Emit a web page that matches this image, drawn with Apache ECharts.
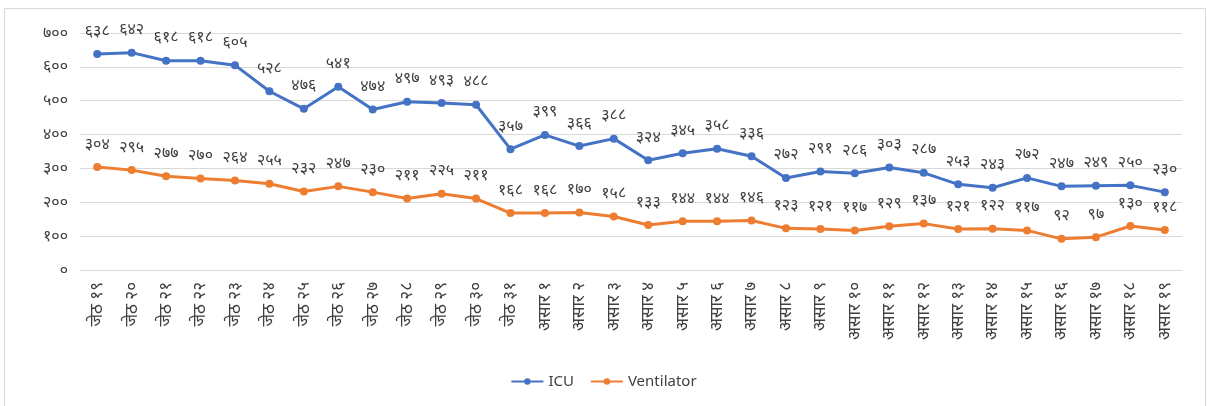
<!DOCTYPE html>
<html><head><meta charset="utf-8">
<script src="https://cdn.jsdelivr.net/npm/echarts@6/dist/echarts.min.js"></script>
<style>html,body{margin:0;padding:0;background:#fff}#c{width:1207px;height:406px}</style>
</head><body><div id="c"></div>
<script>
const categories = ['जेठ १९','जेठ २०','जेठ २१','जेठ २२','जेठ २३','जेठ २४','जेठ २५','जेठ २६','जेठ २७','जेठ २८','जेठ २९','जेठ ३०','जेठ ३१',
 'असार १','असार २','असार ३','असार ४','असार ५','असार ६','असार ७','असार ८','असार ९','असार १०','असार ११','असार १२','असार १३','असार १४','असार १५','असार १६','असार १७','असार १८','असार १९'];
const icu = [638,642,618,618,605,528,476,541,474,497,493,488,357,399,366,388,324,345,358,336,272,291,286,303,287,253,243,272,247,249,250,230];
const ventilator = [304,295,277,270,264,255,232,247,230,211,225,211,168,168,170,158,133,144,144,146,123,121,117,129,137,121,122,117,92,97,130,118];
const yMin = 0, yMax = 700, yStep = 100;

const devDigits = '०१२३४५६७८९';
const toDev = v => String(v).replace(/\d/g, d => devDigits[d]);
const font = "'Noto Sans', 'Noto Sans Devanagari', 'Lohit Devanagari', 'FreeSans', sans-serif";

const chart = echarts.init(document.getElementById('c'));
chart.setOption({
  animation: false,
  textStyle: {fontFamily: font},
  graphic: [{type:'rect', shape:{x:4.5,y:8.5,width:1201,height:420}, style:{fill:'none', stroke:'#d9d9d9', lineWidth:1}, silent:true}],
  grid: {left: 80, right: 25, top: 33, bottom: 136, containLabel: false},
  legend: {
    bottom: 12, left: 'center', itemWidth: 32, itemHeight: 8, itemGap: 16,
    textStyle: {color: '#404040', fontSize: 15, fontFamily: font},
    data: ['ICU', 'Ventilator']
  },
  xAxis: {
    type: 'category', data: categories, boundaryGap: true,
    axisLine: {show: true, lineStyle: {color: '#d9d9d9'}},
    axisTick: {show: false},
    axisLabel: {rotate: 90, interval: 0, color: '#404040', fontSize: 17, margin: 12}
  },
  yAxis: {
    type: 'value', min: yMin, max: yMax, interval: yStep,
    axisLine: {show: false}, axisTick: {show: false},
    splitLine: {lineStyle: {color: '#d9d9d9'}},
    axisLabel: {color: '#404040', fontSize: 16, margin: 12, formatter: v => toDev(v)}
  },
  series: [
    {
      name: 'ICU', type: 'line', data: icu, symbol: 'circle', symbolSize: 8,
      itemStyle: {color: '#4472C4'}, lineStyle: {color: '#4472C4', width: 3},
      label: {show: true, position: 'top', distance: 11, color: '#404040', fontSize: 16, formatter: p => toDev(p.value)}
    },
    {
      name: 'Ventilator', type: 'line', data: ventilator, symbol: 'circle', symbolSize: 8,
      itemStyle: {color: '#ED7D31'}, lineStyle: {color: '#ED7D31', width: 3},
      label: {show: true, position: 'top', distance: 11, color: '#404040', fontSize: 16, formatter: p => toDev(p.value)}
    }
  ]
});
</script></body></html>
